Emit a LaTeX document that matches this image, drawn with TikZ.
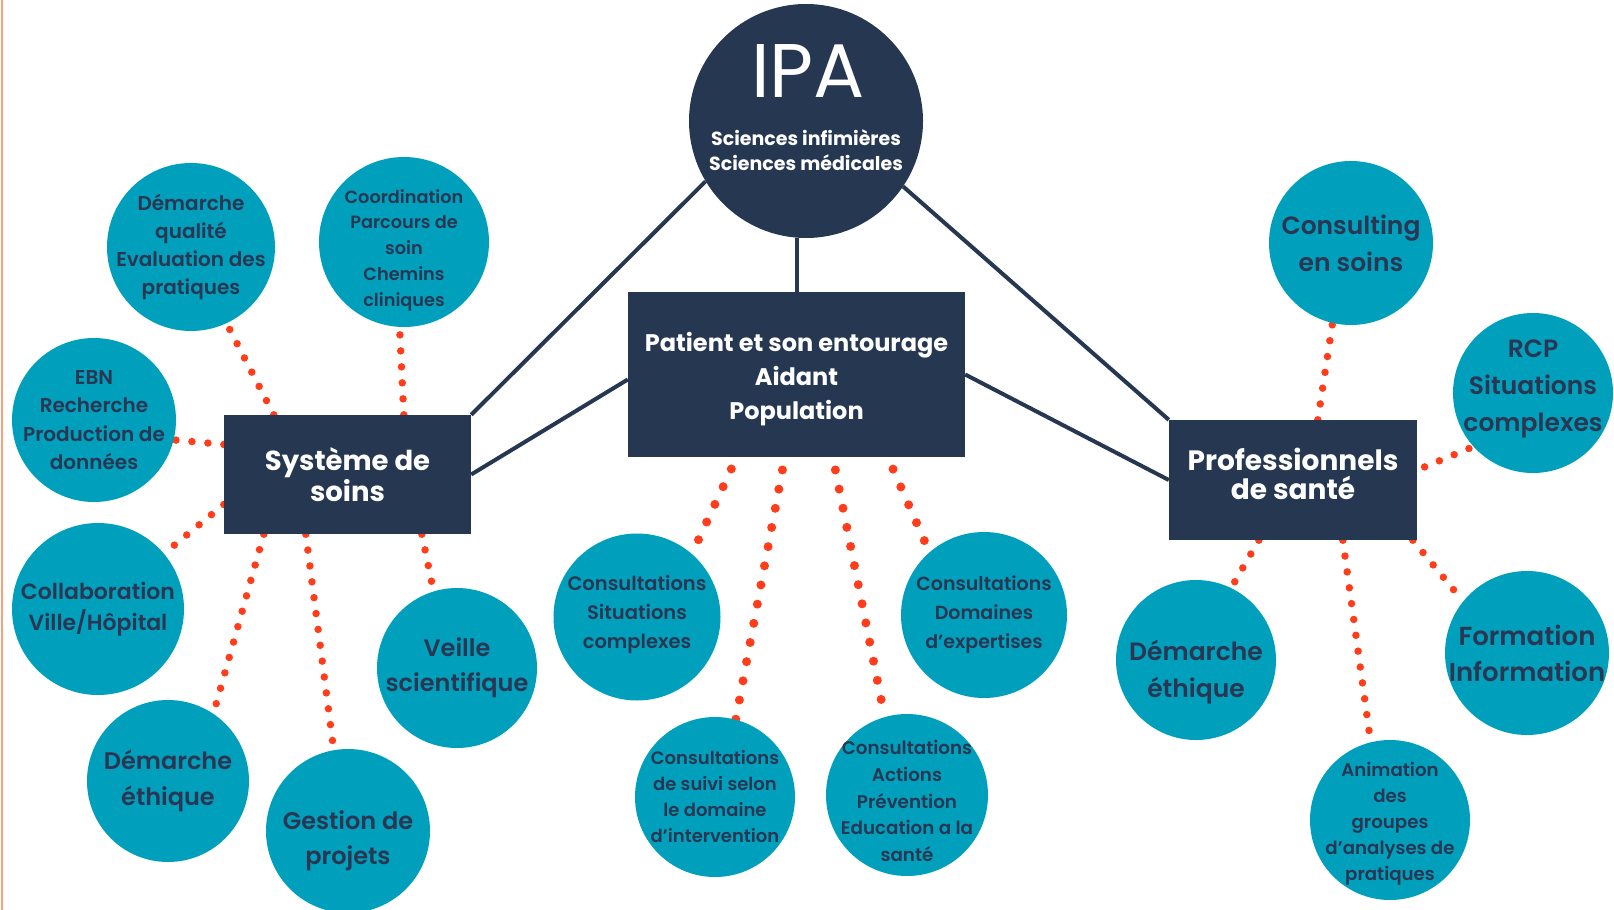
\documentclass[tikz,border=0pt]{standalone}
\usepackage{fontspec}
\setmainfont{Poppins}
\newfontfamily\leaffont{Poppins SemiBold}
\usepackage{tikz}
\usetikzlibrary{backgrounds}

\definecolor{ipanavy}{HTML}{253751}
\definecolor{ipateal}{HTML}{00A0BC}
\definecolor{leafink}{HTML}{2A3652}
\definecolor{ipared}{HTML}{FF3D1A}
\definecolor{edgeorange}{HTML}{F7A27F}

\newcommand\leafsize[2]{\leaffont\fontsize{#1}{#2}\selectfont}

\begin{document}
\begin{tikzpicture}[x=1pt, y=-1pt,
    hub/.style={rectangle, fill=ipanavy, inner sep=0pt},
    hubtext/.style={text=white, align=center, inner sep=0pt},
    ipacircle/.style={circle, fill=ipanavy, minimum size=234pt, inner sep=0pt},
    leaf/.style={circle, fill=ipateal, minimum size=#1pt, inner sep=0pt},
    leaftext/.style={text=leafink, align=center, inner sep=0pt},
    link/.style={draw=ipanavy, line width=4pt},
    dotlink/.style={draw=ipared, line width=7.5pt, line cap=round, dash pattern=on 0pt off 16pt},
    bigdots/.style={dotlink, line width=9pt, dash pattern=on 0pt off 19.5pt, shorten <=13pt}]
    \useasboundingbox (0,0) rectangle (1614,910);
    \draw[edgeorange, line width=1.5pt] (2,0) -- (2,910);

    % centre
    \node[ipacircle] (ipa) at (806,121) {};
    \node[text=white, anchor=base, font=\fontsize{76}{76}\selectfont] (ipatitle) at (808,97) {IPA};
    \node[text=white, align=center, font=\bfseries\fontsize{19}{25}\selectfont] (ipasub) at (806,150) {Sciences infimières\\Sciences médicales};

    \node[hub, minimum width=337pt, minimum height=165pt] (pat) at (796.5,374.5) {};
    \node[hubtext, font=\bfseries\fontsize{24}{34}\selectfont] (pattxt) at ([yshift=-5pt]pat) {Patient et son entourage\\Aidant\\Population};
    \node[hub, minimum width=247pt, minimum height=119pt] (sys) at (347.5,474.5) {};
    \node[hubtext, font=\bfseries\fontsize{27.5}{29}\selectfont] (systxt) at (sys) {Système de\\soins};
    \node[hub, minimum width=248pt, minimum height=120pt] (prof) at (1293,480) {};
    \node[hubtext, font=\bfseries\fontsize{28}{29}\selectfont] (proftxt) at ([yshift=6pt]prof) {Professionnels\\de santé};

    % systeme de soins
    \node[leaf=168] (qual) at (191,247) {};
    \node[leaftext, font={\leafsize{20}{28}}] (qualtxt) at (qual) {Démarche\\qualité\\Evaluation des\\pratiques};
    \node[leaf=170] (coord) at (404,242) {};
    \node[leaftext, font={\leafsize{17.7}{25.7}}] (coordtxt) at ([yshift=-8pt]coord) {Coordination\\Parcours de\\soin\\Chemins\\cliniques};
    \node[leaf=164] (ebn) at (94,420) {};
    \node[leaftext, font={\leafsize{20}{28.3}}] (ebntxt) at (ebn) {EBN\\Recherche\\Production de\\données};
    \node[leaf=172] (collab) at (98,609) {};
    \node[leaftext, font={\leafsize{22}{31}}] (collabtxt) at (collab) {Collaboration\\Ville/Hôpital};
    \node[leaf=162] (ethl) at (168,781) {};
    \node[leaftext, font={\leafsize{24}{36}}] (ethltxt) at (ethl) {Démarche\\éthique};
    \node[leaf=164] (gest) at (348,831) {};
    \node[leaftext, font={\leafsize{24}{35}}] (gesttxt) at ([yshift=-10pt]gest) {Gestion de\\projets};
    \node[leaf=160] (veille) at (457,668) {};
    \node[leaftext, font={\leafsize{24}{35}}] (veilletxt) at (veille) {Veille\\scientifique};

    % patient
    \node[leaf=167] (sit) at (637,617) {};
    \node[leaftext, font={\leafsize{19.5}{29}}] (sittxt) at ([yshift=3pt]sit) {Consultations\\Situations\\complexes};
    \node[leaf=160] (suivi) at (715,797) {};
    \node[leaftext, font={\leafsize{18}{26}}] (suivitxt) at (suivi) {Consultations\\de suivi selon\\le domaine\\d’intervention};
    \node[leaf=162] (actions) at (907,795) {};
    \node[leaftext, font={\leafsize{18.3}{26.7}}] (actionstxt) at ([yshift=-6pt]actions) {Consultations\\Actions\\Prévention\\Education a la\\santé};
    \node[leaf=166] (dom) at (984,615) {};
    \node[leaftext, font={\leafsize{19}{29}}] (domtxt) at (dom) {Consultations\\Domaines\\d’expertises};

    % professionnels
    \node[leaf=164] (consult) at (1351,243) {};
    \node[leaftext, font={\leafsize{25}{37}}] (consulttxt) at (consult) {Consulting\\en soins};
    \node[leaf=160] (rcp) at (1533,393) {};
    \node[leaftext, font={\leafsize{25}{37}}] (rcptxt) at ([yshift=4pt]rcp) {RCP\\Situations\\complexes};
    \node[leaf=160] (ethr) at (1196,660) {};
    \node[leaftext, font={\leafsize{25}{37}}] (ethrtxt) at ([yshift=-12pt]ethr) {Démarche\\éthique};
    \node[leaf=164] (form) at (1527,653) {};
    \node[leaftext, font={\leafsize{26}{36}}] (formtxt) at (form) {Formation\\Information};
    \node[leaf=160] (anim) at (1390,820) {};
    \node[leaftext, font={\leafsize{18.2}{26}}] (animtxt) at ([yshift=-4pt]anim) {Animation\\des\\groupes\\d’analyses de\\pratiques};

    \begin{scope}[on background layer]
        \draw[link] (ipa.211) -- (sys.north east);
        \draw[link] (pat.north) -- (pat.north |- ipa.south);
        \draw[link] (ipa.-34) -- (prof.north west);
        \draw[link] ([yshift=-5pt]pat.west) -- (sys.east);
        \draw[link] (pat.east) -- (prof.west);

        \draw[dotlink] ([xshift=50pt]sys.north west) -- (qual.-65);
        \draw[dotlink] ([xshift=180pt]sys.north west) -- (coord.-93);
        \draw[dotlink] ([yshift=30pt]sys.west) -- (ebn.-14);
        \draw[dotlink] ([yshift=-30pt]sys.west) -- (collab.40);
        \draw[dotlink] ([xshift=40pt]sys.south west) -- (ethl.56);
        \draw[dotlink] ([xshift=82pt]sys.south west) -- (gest.100);
        \draw[dotlink] ([xshift=198pt]sys.south west) -- (veille.107);

        \draw[bigdots] ([xshift=109pt]pat.south west) -- (sit.49);
        \draw[bigdots] ([xshift=157pt]pat.south west) -- (suivi.75);
        \draw[bigdots] ([xshift=205pt]pat.south west) -- (actions.106);
        \draw[bigdots] ([xshift=260pt]pat.south west) -- (dom.131);

        \draw[dotlink] ([xshift=149pt]prof.north west) -- (consult.257);
        \draw[dotlink, shorten <=8pt] ([yshift=10pt]prof.east) -- (rcp.222);
        \draw[dotlink] ([xshift=90pt]prof.south west) -- (ethr.64);
        \draw[dotlink] ([xshift=174pt]prof.south west) -- (anim.104);
        \draw[dotlink] ([xshift=244pt]prof.south west) -- (form.141);
    \end{scope}
\end{tikzpicture}
\end{document}
